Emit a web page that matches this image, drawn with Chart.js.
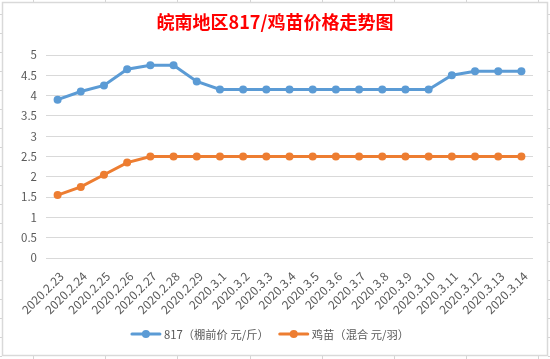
<!DOCTYPE html>
<html>
<head>
<meta charset="utf-8">
<script src="https://cdn.jsdelivr.net/npm/chart.js@4/dist/chart.umd.min.js"></script>
<style>
html,body{margin:0;padding:0;background:#fff;}
canvas{display:block;}
</style>
</head>
<body>
<canvas id="c" width="550" height="359"></canvas>
<script>
const title = '皖南地区817/鸡苗价格走势图';
const categories = ['2020.2.23','2020.2.24','2020.2.25','2020.2.26','2020.2.27','2020.2.28','2020.2.29','2020.3.1','2020.3.2','2020.3.3','2020.3.4','2020.3.5','2020.3.6','2020.3.7','2020.3.8','2020.3.9','2020.3.10','2020.3.11','2020.3.12','2020.3.13','2020.3.14'];
const series817Label = '817（棚前价 元/斤）';
const series817 = [3.9,4.1,4.25,4.65,4.75,4.75,4.35,4.15,4.15,4.15,4.15,4.15,4.15,4.15,4.15,4.15,4.15,4.5,4.6,4.6,4.6];
const chickLabel = '鸡苗（混合 元/羽）';
const chick = [1.55,1.75,2.05,2.35,2.5,2.5,2.5,2.5,2.5,2.5,2.5,2.5,2.5,2.5,2.5,2.5,2.5,2.5,2.5,2.5,2.5];
const yTicks = [0,0.5,1,1.5,2,2.5,3,3.5,4,4.5,5];

const BLUE = '#5B9BD5', ORANGE = '#ED7D31', TXT = '#595959', GRID = '#D9D9D9';
const CJK = '"Noto Sans CJK SC", "Noto Sans", sans-serif';

const framePlugin = {
  id: 'frame',
  beforeDraw(chart) {
    const ctx = chart.ctx;
    ctx.save();
    ctx.fillStyle = '#fff';
    ctx.fillRect(0, 0, 550, 359);
    ctx.strokeStyle = '#D4D4D4';
    ctx.lineWidth = 1;
    const cols = [33,105,177,250,322,394,466,538];
    cols.forEach(x => {
      ctx.beginPath(); ctx.moveTo(x + 0.5, 0); ctx.lineTo(x + 0.5, 2); ctx.stroke();
      ctx.beginPath(); ctx.moveTo(x + 0.5, 356); ctx.lineTo(x + 0.5, 359); ctx.stroke();
    });
    for (let y = 14; y < 359; y += 19) {
      ctx.beginPath(); ctx.moveTo(0, y + 0.5); ctx.lineTo(2, y + 0.5); ctx.stroke();
      ctx.beginPath(); ctx.moveTo(548, y + 0.5); ctx.lineTo(550, y + 0.5); ctx.stroke();
    }
    ctx.strokeStyle = '#D9D9D9';
    ctx.lineWidth = 1.5;
    ctx.strokeRect(2.5, 2.5, 545, 353);
    ctx.restore();
  },
  afterDraw(chart) {
    const ctx = chart.ctx;
    ctx.save();
    ctx.font = 'bold 18px ' + CJK;
    ctx.fillStyle = '#FF0000';
    ctx.textAlign = 'center';
    ctx.textBaseline = 'middle';
    ctx.fillText(title, 275, 22);
    ctx.font = '11.3px ' + CJK;
    ctx.textBaseline = 'middle';
    ctx.textAlign = 'left';
    const items = chart.data.datasets.map(d => ({label: d.label, color: d.borderColor}));
    const lineW = 30, gap = 3, itemGap = 10;
    const widths = items.map(it => lineW + gap + ctx.measureText(it.label).width);
    const total = widths.reduce((a, b) => a + b, 0) + itemGap * (items.length - 1);
    let x = 270 - total / 2;
    const y = 334;
    items.forEach((it, i) => {
      ctx.strokeStyle = it.color;
      ctx.lineWidth = 3;
      ctx.lineCap = 'round';
      ctx.beginPath(); ctx.moveTo(x + 1, y); ctx.lineTo(x + lineW - 1, y); ctx.stroke();
      ctx.fillStyle = it.color;
      ctx.beginPath(); ctx.arc(x + lineW / 2, y, 4, 0, Math.PI * 2); ctx.fill();
      ctx.fillStyle = TXT;
      ctx.fillText(it.label, x + lineW + gap, y + 0.5);
      x += widths[i] + itemGap;
    });
    ctx.restore();
  }
};

new Chart(document.getElementById('c'), {
  type: 'line',
  data: {
    labels: categories,
    datasets: [
      {label: series817Label, data: series817, borderColor: BLUE, backgroundColor: BLUE,
       borderWidth: 3, pointRadius: 4, pointBackgroundColor: BLUE, pointBorderWidth: 0, tension: 0},
      {label: chickLabel, data: chick, borderColor: ORANGE, backgroundColor: ORANGE,
       borderWidth: 3, pointRadius: 4, pointBackgroundColor: ORANGE, pointBorderWidth: 0, tension: 0}
    ]
  },
  options: {
    responsive: false,
    animation: false,
    devicePixelRatio: 1,
    layout: {padding: {top: 55, left: 0, right: 17, bottom: 0}},
    plugins: {legend: {display: false}, title: {display: false}, tooltip: {enabled: false}},
    scales: {
      x: {
        offset: true,
        grid: {display: false, drawTicks: false},
        border: {display: false},
        ticks: {
          autoSkip: false, minRotation: 45, maxRotation: 45, padding: 11, labelOffset: 4,
          color: TXT, font: {family: CJK, size: 12}
        },
        afterFit(s) { s.height = 101; }
      },
      y: {
        min: 0, max: 5,
        afterBuildTicks(s) { s.ticks = yTicks.map(v => ({value: v})); },
        grid: {color: GRID, lineWidth: 1, drawTicks: false},
        border: {display: false},
        ticks: {padding: 9, color: TXT, font: {family: CJK, size: 11.5}, callback: v => String(v)},
        afterFit(s) { s.width = 46; }
      }
    }
  },
  plugins: [framePlugin]
});
</script>
</body>
</html>
